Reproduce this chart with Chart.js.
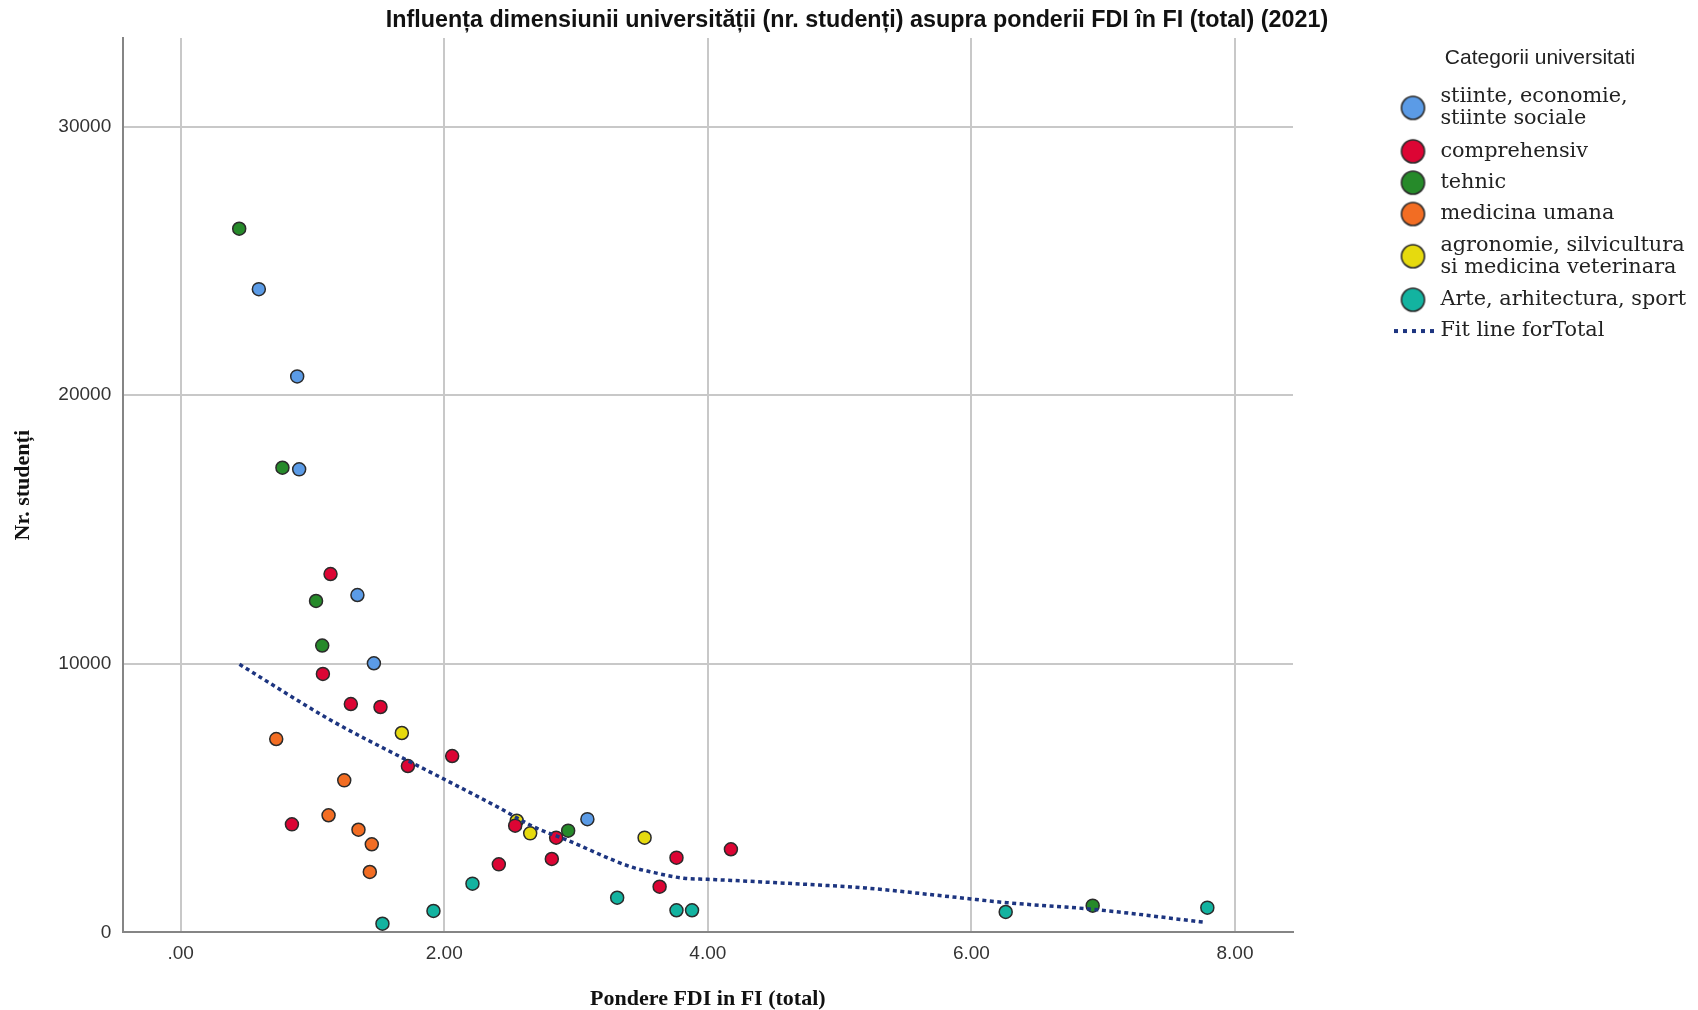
<!DOCTYPE html>
<html>
<head>
<meta charset="utf-8">
<script src="https://cdn.jsdelivr.net/npm/chart.js@4.4.1/dist/chart.umd.min.js"></script>
<style>
  html, body { margin: 0; padding: 0; background: #ffffff; }
  #wrap { width: 1698px; height: 1010px; position: relative; }
</style>
</head>
<body>
<div id="wrap"><canvas id="c"></canvas></div>
<script>
// ---------- data ----------
const chartTitle = 'Influența dimensiunii universității (nr. studenți) asupra ponderii FDI în FI (total) (2021)';
const xTitle = 'Pondere FDI in FI (total)';
const yTitle = 'Nr. studenți';
const legendTitle = 'Categorii universitati';

const categories = [
  'stiinte, economie, stiinte sociale',
  'comprehensiv',
  'tehnic',
  'medicina umana',
  'agronomie, silvicultura si medicina veterinara',
  'Arte, arhitectura, sport'
];
const legendLabels = [
  ['stiinte, economie,', 'stiinte sociale'],
  'comprehensiv',
  'tehnic',
  'medicina umana',
  ['agronomie, silvicultura', 'si medicina veterinara'],
  'Arte, arhitectura, sport',
  'Fit line forTotal'
];
const categoryColors = ['#5b9be6', '#dc0534', '#268a2a', '#f26d23', '#e6da0e', '#13b3a0'];

const stiinteX = [0.593, 0.884, 0.899, 1.341, 1.466, 3.086];
const stiinteY = [23950, 20700, 17240, 12560, 10020, 4215];

const comprehensivX = [1.137, 1.079, 1.291, 1.516, 1.724, 2.060, 0.844, 2.538, 2.849, 2.414, 2.816, 3.762, 3.634, 4.175];
const comprehensivY = [13343, 9621, 8503, 8392, 6195, 6567, 4024, 3973, 3527, 2535, 2733, 2782, 1700, 3094];

const tehnicX = [0.444, 0.772, 1.027, 1.074, 2.940, 6.920];
const tehnicY = [26200, 17300, 12340, 10680, 3787, 995];

const medicinaX = [0.725, 1.241, 1.122, 1.349, 1.450, 1.435];
const medicinaY = [7200, 5662, 4360, 3824, 3280, 2249];

const agronomieX = [1.678, 2.550, 2.652, 3.520];
const agronomieY = [7424, 4159, 3689, 3527];

const arteX = [1.531, 1.918, 2.214, 3.312, 3.762, 3.880, 6.260, 7.790];
const arteY = [324, 797, 1814, 1292, 823, 823, 760, 920];

// Loess fit line
const fitX = [0.446, 1.159, 1.665, 2.000, 2.424, 2.677, 2.930, 3.413, 3.562, 3.820, 4.000, 4.836, 5.197, 5.840, 6.270, 6.920, 7.780];
const fitY = [9980, 7845, 6541, 5700, 4620, 3935, 3440, 2446, 2260, 2014, 1977, 1765, 1653, 1329, 1106, 860, 370];

const xTickValues = [0, 2, 4, 6, 8];
const xTickLabels = ['.00', '2.00', '4.00', '6.00', '8.00'];
const yTickValues = [0, 10000, 20000, 30000];
const yTickLabels = ['0', '10000', '20000', '30000'];

// ---------- helpers ----------
const zip = (xs, ys) => xs.map((x, i) => ({ x: x, y: ys[i] }));
const seriesX = [stiinteX, comprehensivX, tehnicX, medicinaX, agronomieX, arteX];
const seriesY = [stiinteY, comprehensivY, tehnicY, medicinaY, agronomieY, arteY];

const FIT_COLOR = '#1d3580';
const EDGE = '#2b2b2b';

function circleMarker(color, shift) {
  const r = 11.5, pad = 2;
  const c = document.createElement('canvas');
  c.width = Math.ceil(2 * (r + pad));
  c.height = Math.ceil(2 * (r + pad + Math.abs(shift)));
  const g = c.getContext('2d');
  g.beginPath();
  g.arc(c.width / 2, c.height / 2 + shift, r, 0, Math.PI * 2);
  g.fillStyle = color;
  g.fill();
  g.lineWidth = 1.6;
  g.strokeStyle = EDGE;
  g.stroke();
  return c;
}
function fitMarker() {
  const c = document.createElement('canvas');
  c.width = 58; c.height = 10;
  const g = c.getContext('2d');
  g.fillStyle = FIT_COLOR;
  for (let k = 0; k < 5; k++) g.fillRect(10 + k * 9, 3, 4, 4);
  return c;
}
const legendMarkers = legendLabels.map((t, i) => {
  if (i === legendLabels.length - 1) return fitMarker();
  return circleMarker(categoryColors[i], Array.isArray(t) ? 11 : 0);
});

const datasets = categories.map((name, i) => ({
  type: 'scatter',
  label: name,
  data: zip(seriesX[i], seriesY[i]),
  backgroundColor: categoryColors[i],
  borderColor: EDGE,
  pointRadius: 6.5,
  pointHoverRadius: 6.5,
  pointBorderWidth: 1.5,
  order: 1
}));
datasets.push({
  type: 'line',
  label: 'Fit line forTotal',
  data: zip(fitX, fitY),
  borderColor: FIT_COLOR,
  backgroundColor: FIT_COLOR,
  borderWidth: 3.5,
  borderDash: [4, 3.5],
  pointRadius: 0,
  fill: false,
  cubicInterpolationMode: 'monotone',
  order: -1
});

const sansFamily = "'Liberation Sans', Arial, sans-serif";
const serifFamily = "'Liberation Serif', 'Times New Roman', serif";
const GRID = '#c8c8c8';

new Chart(document.getElementById('c'), {
  type: 'scatter',
  data: { datasets: datasets },
  options: {
    responsive: true,
    maintainAspectRatio: false,
    animation: false,
    events: [],
    layout: { padding: { left: 19.5, right: 3.5, top: 0, bottom: 0 } },
    scales: {
      x: {
        type: 'linear',
        min: -0.44,
        max: 8.44,
        afterBuildTicks: (s) => { s.ticks = xTickValues.map(v => ({ value: v })); },
        afterFit: (s) => { s.height = 77.6; },
        ticks: {
          includeBounds: false,
          padding: 10,
          color: '#333333',
          font: { family: sansFamily, size: 19 },
          callback: (v) => xTickLabels[xTickValues.indexOf(v)]
        },
        grid: { color: GRID, lineWidth: 2, drawTicks: false },
        border: { color: '#858585', width: 2 },
        title: {
          display: true,
          text: xTitle,
          color: '#111111',
          font: { family: serifFamily, size: 22, weight: 'bold' },
          padding: { top: 0, bottom: -3 }
        }
      },
      y: {
        type: 'linear',
        min: 0,
        max: 33300,
        afterBuildTicks: (s) => { s.ticks = yTickValues.map(v => ({ value: v })); },
        afterFit: (s) => { s.width = 103.2; },
        ticks: {
          includeBounds: false,
          padding: 11.5,
          color: '#333333',
          font: { family: sansFamily, size: 19 },
          callback: (v) => yTickLabels[yTickValues.indexOf(v)]
        },
        grid: { color: GRID, lineWidth: 2, drawTicks: false },
        border: { color: '#858585', width: 2 },
        title: {
          display: true,
          text: yTitle,
          color: '#111111',
          font: { family: serifFamily, size: 22, weight: 'bold' },
          padding: { top: -9.8, bottom: 0 }
        }
      },
      gap: {
        type: 'linear',
        position: 'right',
        display: true,
        afterFit: (s) => { s.width = 92.5; },
        ticks: { display: false },
        grid: { display: false },
        border: { display: false }
      }
    },
    plugins: {
      tooltip: { enabled: false },
      title: {
        display: true,
        text: chartTitle,
        color: '#111111',
        font: { family: sansFamily, size: 23.3, weight: 'bold' },
        padding: { top: 6.6, bottom: 3.44 }
      },
      legend: {
        display: true,
        position: 'right',
        align: 'start',
        maxWidth: 309,
        title: {
          display: true,
          text: legendTitle,
          color: '#222222',
          position: 'center',
          font: { family: sansFamily, size: 21 },
          padding: { top: 47.3, bottom: 3.45 }
        },
        labels: {
          usePointStyle: true,
          pointStyleWidth: 34,
          padding: 10.5,
          color: '#222222',
          font: { family: "'DejaVu Serif', serif", size: 20.8, lineHeight: '22px' },
          generateLabels: (chart) => legendLabels.map((t, i) => ({
            text: t,
            pointStyle: legendMarkers[i],
            fillStyle: i < categoryColors.length ? categoryColors[i] : FIT_COLOR,
            strokeStyle: EDGE,
            lineWidth: 0,
            hidden: false,
            fontColor: '#222222',
            datasetIndex: i
          }))
        }
      }
    }
  }
});
</script>
</body>
</html>
